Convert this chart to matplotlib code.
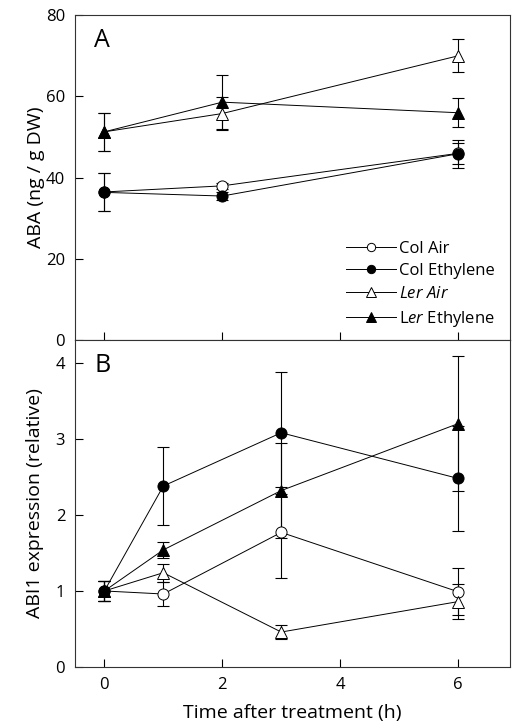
import matplotlib
matplotlib.use("Agg")
import matplotlib.pyplot as plt

plt.rcParams['font.family'] = ['Open Sans', 'DejaVu Sans']
plt.rcParams['mathtext.fontset'] = 'custom'
plt.rcParams['mathtext.rm'] = 'Open Sans'
plt.rcParams['mathtext.it'] = 'Open Sans:italic'

# Panel A: ABA content
t_a = [0, 2, 6]
col_air_a = [36.5, 38.0, 46.0]
col_air_a_err = [4.7, 0.8, 2.6]
col_eth_a = [36.4, 35.5, 45.9]
col_eth_a_err = [4.7, 1.0, 3.5]
ler_air_a = [51.3, 55.8, 70.0]
ler_air_a_err = [4.7, 4.0, 4.1]
ler_eth_a = [51.3, 58.6, 56.0]
ler_eth_a_err = [4.7, 6.7, 3.6]

# Panel B: ABI1 expression
t_b = [0, 1, 3, 6]
col_air_b = [1.0, 0.96, 1.77, 0.99]
col_air_b_err = [0.13, 0.16, 0.60, 0.31]
col_eth_b = [1.0, 2.38, 3.08, 2.48]
col_eth_b_err = [0.13, 0.51, 0.80, 0.69]
ler_air_b = [1.0, 1.24, 0.46, 0.86]
ler_air_b_err = [0.13, 0.12, 0.09, 0.23]
ler_eth_b = [1.0, 1.54, 2.32, 3.20]
ler_eth_b_err = [0.13, 0.10, 0.62, 0.89]

labels = ["Col Air", "Col Ethylene", r"$\it{Ler\ Air}$", r"L$\it{er}$ Ethylene"]
markers = ['o', 'o', '^', '^']
faces = ['white', 'black', 'white', 'black']

fig = plt.figure(figsize=(5.13, 7.24), dpi=100)
axA = fig.add_axes([0.146, 0.530, 0.848, 0.449])
axB = fig.add_axes([0.146, 0.0787, 0.848, 0.4517])

def draw(ax, t, series, errs):
    handles = []
    for y, e, m, fc, lab in zip(series, errs, markers, faces, labels):
        ax.errorbar(t, y, yerr=e, fmt='none', ecolor='black', elinewidth=0.8,
                    capsize=4, capthick=0.8, zorder=2)
        h, = ax.plot(t, y, color='black', lw=0.7, marker=m, markersize=8 if m == 'o' else 9,
                     markerfacecolor=fc, markeredgecolor='black', markeredgewidth=0.7,
                     label=lab, zorder=3)
        handles.append(h)
    return handles

hA = draw(axA, t_a, [col_air_a, col_eth_a, ler_air_a, ler_eth_a],
          [col_air_a_err, col_eth_a_err, ler_air_a_err, ler_eth_a_err])
draw(axB, t_b, [col_air_b, col_eth_b, ler_air_b, ler_eth_b],
     [col_air_b_err, col_eth_b_err, ler_air_b_err, ler_eth_b_err])

for ax in (axA, axB):
    ax.set_xlim(-0.5, 6.88)
    ax.set_xticks([0, 2, 4, 6])
    ax.tick_params(direction='in', length=6, width=0.8, labelsize=12, pad=7)
    for s in ax.spines.values():
        s.set_linewidth(0.8)
        s.set_color('#333333')

axA.set_ylim(0, 80)
axA.set_yticks([0, 20, 40, 60, 80])
axA.tick_params(axis='x', labelbottom=False)
axA.set_ylabel("ABA (ng / g DW)", fontsize=14)
axA.yaxis.set_label_coords(-0.068, 0.5)
axA.text(0.045, 0.96, "A", transform=axA.transAxes, fontsize=18, va='top', ha='left')

axB.set_ylim(0, 4.3)
axB.set_yticks([0, 1, 2, 3, 4])
axB.set_ylabel("ABI1 expression (relative)", fontsize=14)
axB.yaxis.set_label_coords(-0.072, 0.5)
axB.set_xlabel("Time after treatment (h)", fontsize=14, labelpad=8)
axB.text(0.045, 0.96, "B", transform=axB.transAxes, fontsize=18, va='top', ha='left')

axA.legend(handles=hA, loc='lower right', bbox_to_anchor=(0.993, 0.0), frameon=False,
           fontsize=12, handlelength=3.0, handletextpad=0.2, labelspacing=0.4,
           markerscale=0.75, borderaxespad=0.3)

fig.savefig("out.png", dpi=100)
